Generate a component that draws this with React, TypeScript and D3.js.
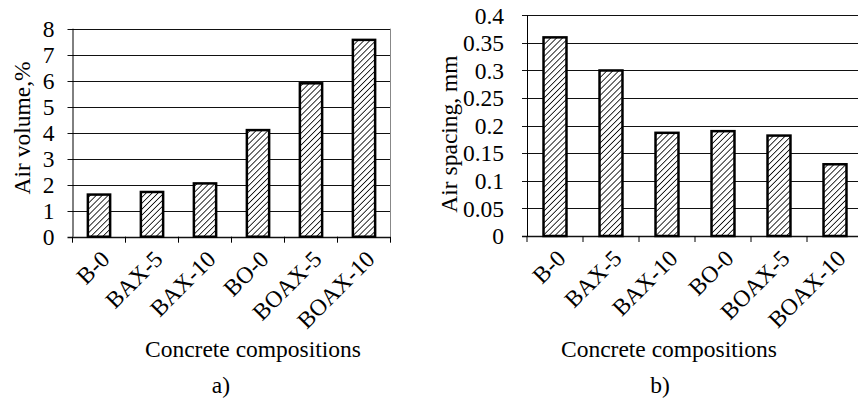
import React from "react";
import * as d3 from "d3";

const categories = ["B-0", "BAX-5", "BAX-10", "BO-0", "BOAX-5", "BOAX-10"];
const airVolume = [1.62, 1.72, 2.05, 4.1, 5.9, 7.57];
const airSpacing = [0.36, 0.3, 0.187, 0.19, 0.182, 0.13];
const volumeTicks = [0, 1, 2, 3, 4, 5, 6, 7, 8];
const spacingTicks = [0, 0.05, 0.1, 0.15, 0.2, 0.25, 0.3, 0.35, 0.4];

const FONT = "'Liberation Serif', 'Times New Roman', serif";
const FS = 23.5;

type PanelProps = {
  id: string;
  values: number[];
  ticks: number[];
  yMax: number;
  x0: number;
  x1: number;
  yTop: number;
  yBottom: number;
  barFrac: number;
  yTitle: string;
  yTitleX: number;
  yTitleY: number;
  tickFmt: (v: number) => string;
  tickGap: number;
  xTitleX: number;
  panelLabel: string;
  panelLabelX: number;
  rightBorder: boolean;
};

function Panel(p: PanelProps) {
  const n = categories.length;
  const step = (p.x1 - p.x0) / n;
  const pad = 1 - p.barFrac;
  const x = d3
    .scaleBand<string>()
    .domain(categories)
    .range([p.x0, p.x1])
    .paddingInner(pad)
    .paddingOuter(pad / 2);
  const y = d3.scaleLinear().domain([0, p.yMax]).range([p.yBottom, p.yTop]);
  const bounds = d3.range(n + 1).map((i) => p.x0 + i * step);
  const gridRight = Math.min(p.x1, 858);
  return (
    <g>
      {p.ticks.map((t) => (
        <line
          key={"g" + t}
          x1={p.x0 - 5}
          x2={gridRight}
          y1={Math.round(y(t)) + 0.5}
          y2={Math.round(y(t)) + 0.5}
          stroke="#111"
          strokeWidth={t === 0 ? 1.5 : 1}
        />
      ))}
      {p.ticks.map((t) => (
        <text
          key={"t" + t}
          x={p.x0 - p.tickGap}
          y={y(t)}
          dy="0.35em"
          textAnchor="end"
          fontFamily={FONT}
          fontSize={FS}
          fill="#000"
        >
          {p.tickFmt(t)}
        </text>
      ))}
      <line x1={p.x0 + 0.5} x2={p.x0 + 0.5} y1={y(p.yMax)} y2={p.yBottom} stroke="#000" strokeWidth={1} />
      {p.rightBorder && (
        <line x1={p.x1} x2={p.x1} y1={y(p.yMax)} y2={p.yBottom} stroke="#888" strokeWidth={1} />
      )}
      {bounds.map((b, i) => (
        <line key={"xt" + i} x1={b} x2={b} y1={p.yBottom} y2={p.yBottom + 6} stroke="#000" strokeWidth={1} />
      ))}
      {categories.map((c, i) => (
        <rect
          key={"b" + c}
          x={x(c)}
          y={y(p.values[i])}
          width={x.bandwidth()}
          height={p.yBottom - y(p.values[i])}
          fill={`url(#hatch-${p.id})`}
          stroke="#000"
          strokeWidth={2.5}
        />
      ))}
      {categories.map((c) => {
        const cx = (x(c) as number) + x.bandwidth() / 2 + 12;
        const cy = p.yBottom + 24;
        return (
          <text
            key={"l" + c}
            transform={`translate(${cx},${cy}) rotate(-45)`}
            textAnchor="end"
            fontFamily={FONT}
            fontSize={FS}
            fill="#000"
          >
            {c}
          </text>
        );
      })}
      <text
        transform={`translate(${p.yTitleX},${p.yTitleY}) rotate(-90)`}
        textAnchor="middle"
        fontFamily={FONT}
        fontSize={FS}
        fill="#000"
      >
        {p.yTitle}
      </text>
      <text x={p.xTitleX} y={357} textAnchor="middle" fontFamily={FONT} fontSize={FS} fill="#000">
        Concrete compositions
      </text>
      <text x={p.panelLabelX} y={393} textAnchor="middle" fontFamily={FONT} fontSize={FS} fill="#000">
        {p.panelLabel}
      </text>
    </g>
  );
}

export default function App() {
  return (
    <svg
      width={858}
      height={405}
      style={{ position: "absolute", left: 0, top: 0, background: "#fff" }}
    >
      <defs>
        {["a", "b"].map((id) => (
          <pattern
            key={id}
            id={`hatch-${id}`}
            patternUnits="userSpaceOnUse"
            width={4.2}
            height={4.2}
            patternTransform="rotate(45)"
          >
            <rect width={4.2} height={4.2} fill="#fff" />
            <line x1={0} y1={0} x2={0} y2={4.2} stroke="#000" strokeWidth={1.6} />
          </pattern>
        ))}
      </defs>
      <rect width={858} height={405} fill="#fff" />
      <Panel
        id="a"
        values={airVolume}
        ticks={volumeTicks}
        yMax={8}
        x0={72.5}
        x1={390.5}
        yTop={28.7}
        yBottom={236.7}
        barFrac={0.42}
        yTitle="Air volume,%"
        yTitleX={30}
        yTitleY={128}
        tickFmt={(v) => String(v)}
        tickGap={18}
        xTitleX={253}
        panelLabel="a)"
        panelLabelX={221}
        rightBorder={true}
      />
      <Panel
        id="b"
        values={airSpacing}
        ticks={spacingTicks}
        yMax={0.4}
        x0={527}
        x1={863}
        yTop={15.3}
        yBottom={236}
        barFrac={0.41}
        yTitle="Air spacing, mm"
        yTitleX={457}
        yTitleY={134}
        tickFmt={(v) => String(v)}
        tickGap={23}
        xTitleX={669}
        panelLabel="b)"
        panelLabelX={660}
        rightBorder={false}
      />
    </svg>
  );
}
